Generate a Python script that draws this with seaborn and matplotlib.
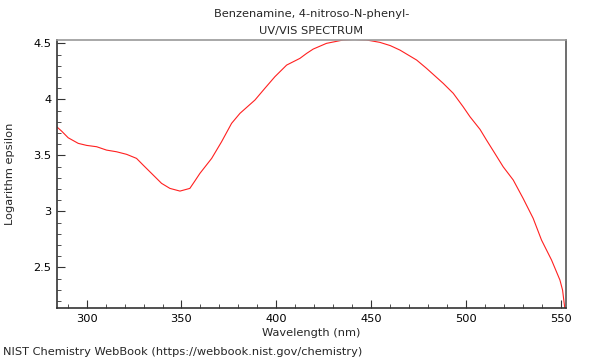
import numpy as np
import pandas as pd
import seaborn as sns
import matplotlib.pyplot as plt
from matplotlib.ticker import MultipleLocator

# spectrum
wavelength = [284.4, 286.8, 290.3, 295.6, 300.0, 305.3, 310.5, 315.8, 321.1, 326.3,
              329.8, 335.1, 339.5, 343.9, 349.2, 354.4, 357.0, 359.7, 365.9, 371.1,
              376.4, 380.8, 388.7, 394.0, 399.2, 405.4, 412.4, 415.9, 419.4, 426.4,
              435.2, 441.0, 447.5, 454.5, 460.0, 465.1, 473.9, 479.1, 487.9, 493.2,
              498.4, 502.0, 507.3, 510.7, 515.1, 519.5, 524.8, 530.0, 535.3, 539.7,
              545.0, 549.4, 550.8, 552.0]
log_eps = [3.753, 3.717, 3.657, 3.607, 3.589, 3.577, 3.547, 3.532, 3.509, 3.473,
           3.413, 3.324, 3.25, 3.205, 3.181, 3.205, 3.27, 3.339, 3.473, 3.621,
           3.786, 3.875, 3.994, 4.10, 4.202, 4.306, 4.366, 4.41, 4.449, 4.50,
           4.53, 4.535, 4.53, 4.509, 4.48, 4.44, 4.351, 4.277, 4.143, 4.054,
           3.934, 3.845, 3.732, 3.637, 3.518, 3.398, 3.28, 3.116, 2.938, 2.744,
           2.565, 2.387, 2.297, 2.13]

df = pd.DataFrame({"wavelength": wavelength, "log_eps": log_eps})

sns.set_style("ticks")
plt.rcParams["font.family"] = ["DejaVu Sans"]

fig = plt.figure(figsize=(6, 3.6), dpi=100)
ax = fig.add_axes([0.095, 0.1444, 0.848, 0.7445])

sns.lineplot(data=df, x="wavelength", y="log_eps", ax=ax, color="#ff2020", linewidth=0.8)

ax.set_xlim(284.4, 552.5)
ax.set_ylim(2.137, 4.53)
ax.xaxis.set_major_locator(MultipleLocator(50))
ax.xaxis.set_minor_locator(MultipleLocator(10))
ax.yaxis.set_major_locator(MultipleLocator(0.5))
ax.yaxis.set_minor_locator(MultipleLocator(0.1))
ax.yaxis.set_major_formatter(plt.FuncFormatter(lambda v, p: f"{v:g}"))
ax.tick_params(which="both", direction="in", labelsize=8.2, colors="#333333",
               labelcolor="black", pad=4)
ax.tick_params(which="major", length=6)
ax.tick_params(which="minor", length=3)

for side in ["left", "bottom"]:
    ax.spines[side].set_color("#333333")
ax.spines["top"].set_color("#999999")
ax.spines["right"].set_color("#555555")
for s in ax.spines.values():
    s.set_linewidth(1.2)

ax.set_xlabel("Wavelength (nm)", fontsize=8.2, labelpad=3)
ax.set_ylabel("Logarithm epsilon", fontsize=8.2, labelpad=13)
ax.set_title("Benzenamine, 4-nitroso-N-phenyl-\nUV/VIS SPECTRUM", fontsize=8.2, pad=4,
             linespacing=1.9)
fig.text(0.005, 0.022, "NIST Chemistry WebBook (https://webbook.nist.gov/chemistry)",
         fontsize=8.2, ha="left", va="center")

fig.savefig("out.png", dpi=100)
